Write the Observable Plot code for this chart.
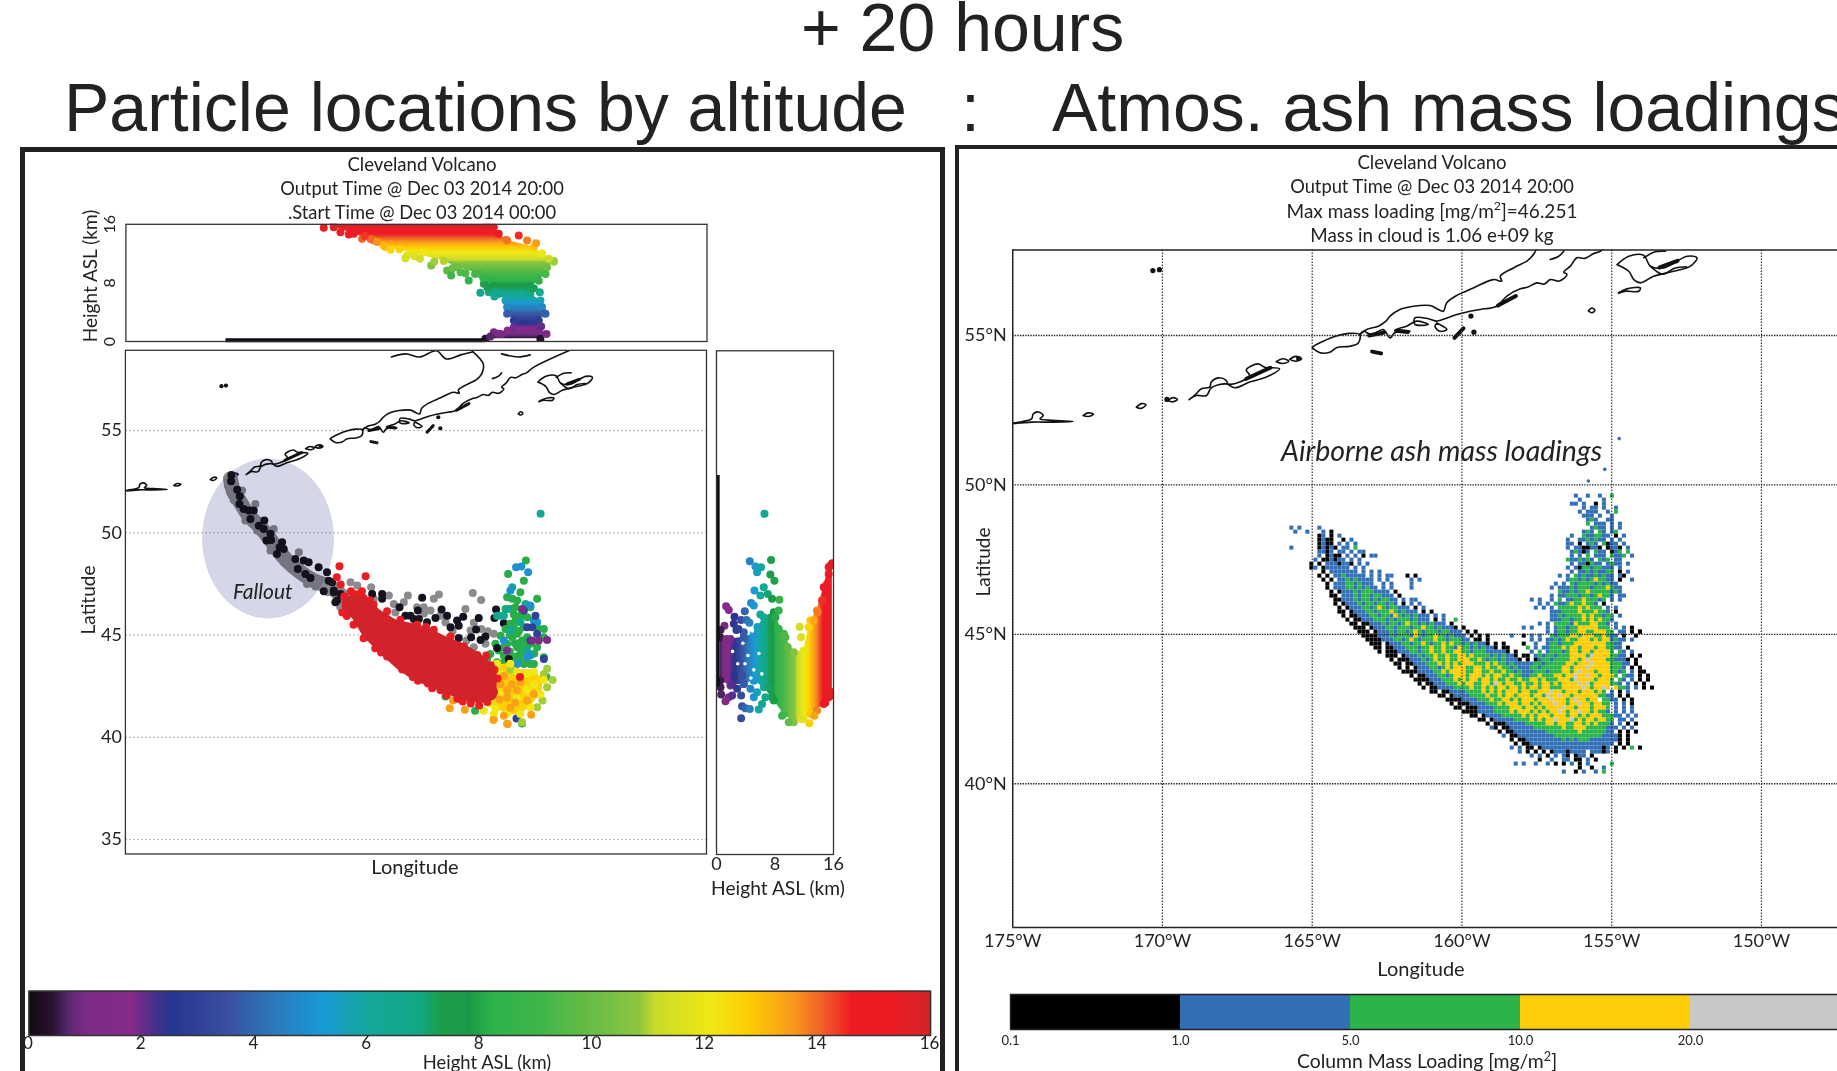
<!DOCTYPE html>
<html><head><meta charset="utf-8">
<script src="https://cdn.jsdelivr.net/npm/d3@7"></script>
<script src="https://cdn.jsdelivr.net/npm/@observablehq/plot@0.6"></script>
<style>
html,body{margin:0;padding:0;background:#fff;width:1837px;height:1071px;overflow:hidden;position:relative}
.t{position:absolute;white-space:nowrap;transform:translate(-50%,-50%);font-family:Lato,"Open Sans",sans-serif;color:#222;line-height:1}
.h{position:absolute;white-space:nowrap;font-family:"Liberation Sans",Arial,sans-serif;font-size:68px;color:#222;line-height:1}
.p{position:absolute}
sup{font-size:.65em;line-height:0}
</style></head><body>
<script>
// ---------- height colour bar ----------
const hStops=[0,.4,.7,1,1.8,2.2,2.5,3.5,4.2,5.2,6,6.9,7.3,7.8,8.2,9,10,10.8,11.1,12.1,12.8,13.6,14.1,14.6,15.3,16];
const hColors=["#110b14","#2a1230","#5a2a72","#7a2c84","#872a8c","#4a2f8c","#26358f","#3a4f9f","#2f73b5","#1a9ad6","#14a89c","#12a884","#1b9e4b","#1a9a48","#2cb34a","#3fb54a","#6abd45","#8cc63f","#c9db2a","#f0e814","#ffcb05","#f7941d","#f15a29","#ed1c24","#ed1c24","#d2232a"];
const hTicks=[0,2,4,6,8,10,12,14,16];

// ---------- mass loading colour bar ----------
const ashClasses=["0","1","2","3","4"];
const ashColors=["#000000","#326fb5","#2cb34a","#ffcc08","#c8c8c6"];
const ashLabels=["0.1","1.0","5.0","10.0","20.0"];

// ---------- coast, [lon,lat] ----------
const coastLines=[
[[-175.2,52.05],[-175,52.07],[-174.64,52.13],[-174.37,52.21],[-174.31,52.38],[-174.14,52.44],[-173.98,52.32],[-174.09,52.21],[-173.64,52.16],[-172.98,52.12],[-173.64,52.1],[-174.37,52.1],[-175.2,52.03]],
[[-172.65,52.32],[-172.48,52.41],[-172.3,52.37],[-172.48,52.29],[-172.65,52.32]],
[[-170.87,52.6],[-170.7,52.72],[-170.55,52.68],[-170.72,52.56],[-170.87,52.6]],
[[-169.82,52.82],[-169.65,52.92],[-169.5,52.86],[-169.65,52.78],[-169.82,52.82]],
[[-169.11,52.85],[-168.87,53.05],[-168.7,53.22],[-168.42,53.27],[-168.37,53.44],[-168.14,53.58],[-167.87,53.5],[-167.81,53.38],[-167.42,53.44],[-167.09,53.66],[-167.2,53.85],[-166.81,54.05],[-166.59,53.94],[-166.09,53.89],[-166.53,53.61],[-167.09,53.44],[-167.59,53.25],[-167.87,53.38],[-168.37,53.25],[-168.53,52.99],[-168.87,52.99],[-169.11,52.85]],
[[-166.2,54.12],[-165.98,54.22],[-165.78,54.14],[-165.98,54.06],[-166.2,54.12]],
[[-165.75,54.2],[-165.55,54.3],[-165.35,54.22],[-165.55,54.14],[-165.75,54.2]],
[[-165,54.59],[-164.74,54.42],[-164.41,54.44],[-164.19,54.59],[-163.74,54.64],[-163.46,54.75],[-163.41,55.03],[-163.74,55.07],[-164.19,54.98],[-164.63,54.81],[-164.91,54.67],[-165,54.59]],
[[-163.41,55.03],[-163.18,55.2],[-162.79,55.31],[-162.54,55.48],[-162.4,55.65],[-162.07,55.87],[-161.62,55.98],[-161.06,56],[-160.79,55.87],[-160.62,55.81],[-160.51,56.09],[-160.17,56.34],[-159.62,56.59],[-158.95,56.87],[-158.67,56.82],[-158.72,56.98],[-158.28,57.26],[-157.83,57.49],[-157.66,57.65],[-157.55,57.82],[-157.5,58.27],[-158,58.85]],
[[-163.41,55.03],[-163.29,55.14],[-163.02,55.03],[-162.63,55.2],[-162.4,54.92],[-162.24,55.09],[-161.73,55.14],[-162.18,55.2],[-161.85,55.31],[-161.51,55.48],[-161.12,55.37],[-161.57,55.37],[-161.57,55.59],[-161.12,55.56],[-160.84,55.48],[-160.62,55.54],[-160.17,55.7],[-159.73,55.81],[-159.39,55.87],[-158.84,55.98],[-158.5,56.32],[-158.05,56.56],[-157.8,56.62],[-157.5,56.76],[-157.25,56.72],[-157.05,56.87],[-156.75,56.82],[-156.49,57.04],[-156.6,57.12],[-156.38,57.32],[-156.16,57.6],[-155.9,57.58],[-155.6,57.74],[-155.38,57.82],[-155.04,58.09],[-153.2,58.95]],
[[-160.84,55.42],[-160.5,55.2],[-160.73,55.14],[-160.9,55.3],[-160.84,55.42]],
[[-154.82,57.37],[-154.43,57.65],[-153.93,57.68],[-153.71,57.32],[-153.26,57.26],[-152.48,57.65],[-152.15,57.6],[-152.37,57.32],[-152.93,57.15],[-153.6,56.98],[-154.04,56.76],[-154.26,56.87],[-154.43,57.15],[-154.82,57.37]],
[[-153.93,57.6],[-153.55,57.8],[-153.2,57.82]],
[[-153.71,57.32],[-153.3,57.05],[-152.9,57.25],[-152.5,57.3]],
[[-154.77,56.43],[-154.49,56.56],[-154.04,56.59],[-154.1,56.48],[-154.54,56.48],[-154.77,56.41]],
[[-157.05,57.54],[-156.77,57.65],[-156.6,57.82]],
[[-155.78,55.82],[-155.66,55.92],[-155.56,55.84],[-155.66,55.76],[-155.78,55.82]],
[[-162,58.6],[-161.3,58.75],[-160.6,58.6],[-159.8,58.9],[-159.3,58.5],[-158.6,58.7],[-158,58.85]],
[[-156.6,58.75],[-155.8,58.6],[-155.2,58.7]]
];
const coastBold=[
[[-160.25,54.92],[-159.95,55.24]],
[[-158.8,56],[-158.2,56.32]],
[[-163,54.46],[-162.7,54.4]],
[[-167.2,53.55],[-166.4,53.92]],
[[-163.1,55],[-162.6,55.1]],
[[-162.2,55.16],[-161.8,55.12]],
[[-153.4,57.28],[-152.8,57.5]]
];
const coastBlobs=[[-170.32,57.17],[-170.1,57.2],[-159.6,55.11],[-159.7,55.65],[-169.85,52.86],[-165.45,54.23]];
// ---------- particle map, left panel ----------
const fallBand=[[-169.88,52.64],[-169.71,51.98],[-169.39,51.49],[-168.98,50.84],[-168.49,50.35],[-168,49.78],[-167.6,49.21],[-167.11,48.64],[-166.45,48.07],[-165.8,47.66],[-164.98,47.34],[-164.3,46.8]];
const fallBlack=[[-169.83,52.83],[-169.85,52.52],[-169.55,52.11],[-169.42,51.79],[-169.44,51.41],[-169.23,51.17],[-168.98,51.09],[-168.74,51.09],[-168.9,50.68],[-168.22,50.6],[-168.49,50.35],[-168.25,50.19],[-167.92,49.95],[-168.12,49.62],[-167.89,49.65],[-167.35,49.54],[-167.47,49.29],[-167.27,49.21],[-167.6,48.97],[-166.7,48.72],[-166.29,48.64],[-166.58,48.23],[-166.05,48.56],[-166.21,47.99],[-165.96,47.79],[-165.56,48.32],[-165.15,48.07],[-165.07,47.66],[-164.9,47.58],[-165.31,47.14],[-164.82,47.18],[-164.66,46.69],[-164.82,47.09],[-164.49,47.01],[-164.74,46.6],[-162.94,47.01],[-162.45,47.01],[-162.45,46.77],[-161.6,46.36],[-160.49,46.82],[-161.31,45.95],[-161.06,45.95],[-160.7,46.2],[-160.9,45.79],[-160.65,45.79],[-159.54,46.25],[-159.84,45.84],[-159.27,45.95],[-159.1,45.38],[-158.78,45.71],[-158.48,45.9],[-158.7,45.46],[-157.72,45.84],[-156.87,46.25],[-156.95,45.84],[-156.49,45.58],[-157.85,45.27],[-160.25,45.63],[-157.39,44.93],[-157.63,44.76],[-158.09,44.89],[-158.7,44.86]];
const fallGrey=[[-170.01,52.31],[-169.31,52.07],[-169.72,51.61],[-169.15,50.6],[-168.66,51.41],[-168.57,50.11],[-167.76,50.19],[-167.92,49.13],[-167.27,48.56],[-166.94,48.4],[-166.53,49.05],[-166.13,47.5],[-165.72,47.37],[-165.11,47.09],[-164.5,46.36],[-164,47.58],[-164.41,46.36],[-163.67,47.42],[-162.99,47.34],[-162.12,46.93],[-161.19,46.93],[-161.88,46.52],[-161.39,46.6],[-159.67,46.98],[-159.92,46.77],[-158.01,47.06],[-157.6,46.72],[-158.37,46.28],[-160.41,46.36],[-160.08,46.2],[-159.6,45.95],[-159.35,45.63],[-157.96,45.6],[-157.28,45.19],[-158.12,45.22],[-158.32,44.73],[-157.96,44.4],[-157.39,44.57],[-156.98,45.06],[-160.74,46.36],[-162.86,46.77],[-164.2,46.7],[-161.8,46.1],[-160.4,46.05],[-159,45.2],[-157.6,45.3]];
const redBand=[[-164.4,46.75,46.3],[-163.9,46.95,45.8],[-163.35,46.93,44.89],[-162.53,46.2,44.08],[-161.72,45.71,43.34],[-160.9,45.55,42.77],[-160.08,45.3,42.45],[-159.27,44.89,42.09],[-158.45,44.57,41.8],[-157.63,44.08,41.63],[-156.98,43.51,41.8],[-156.82,43.1,41.96]];
const redDots=[[-164.54,48.37],[-164.67,47.83],[-163.26,47.88],[-164.48,47.47],[-163.98,47.14],[-163.44,47.14],[-164.18,45.93],[-163.85,45.5],[-163.36,44.85],[-162.79,44.36],[-162.21,43.95],[-161.47,43.32],[-161.64,43.62],[-160.7,42.76],[-160.21,42.63],[-159.59,42.3],[-158.77,41.89],[-158.11,41.65],[-157.3,41.73],[-156.97,42.22],[-156.8,42.88],[-157.13,43.53],[-157.79,44.02],[-158.44,44.44],[-159.1,44.93],[-159.92,45.26],[-160.74,45.5],[-161.56,45.75],[-162.21,46.16],[-162.87,46.49],[-163.36,46.81],[-155.7,42.95],[-164.3,46.9],[-164.4,46.1],[-163.7,47],[-163,45.6],[-162.5,44.15],[-160.95,42.95],[-160,42.4],[-159.3,42.05],[-158.5,41.75],[-157.7,41.55],[-157.35,44],[-156.95,43.3],[-163.05,46.7],[-160.3,45.4]];
const coreBand=[[-156.98,41.5,43.5],[-156.33,41.1,43.6],[-155.68,41.1,43.3],[-155.19,41.5,43.3],[-154.86,41.9,43.1],[-154.6,42.2,42.9]];
const orangeDots=[[-156.49,43],[-156.1,42.6],[-156.33,42.3],[-155.84,42.3],[-155.35,41.8],[-156.33,41.95],[-155.93,41.7],[-156.65,42.6],[-155.68,42.7],[-156.7,41.85],[-156.17,41.45],[-155.02,42.12],[-156.49,41.05],[-159.14,41.42],[-158.98,41.8],[-158.4,41.35],[-155.15,41.1],[-157,40.85],[-156.3,40.65]];
const yellowDots=[[-156.82,43.6],[-156.17,43.6],[-155.35,43.1],[-155.02,42.6],[-154.86,42.1],[-155.19,41.47],[-155.68,41.14],[-156.33,41.14],[-156.98,41.14],[-157.47,41.3],[-157.15,41.65],[-155.84,43.2],[-156.65,43.1],[-156.9,41.4],[-154.53,42.8],[-155.02,43.2],[-154.7,42.1],[-155.35,42.3],[-155.84,41.9],[-156.65,42.1]];
const limeDots=[[-154.37,43.35],[-154.1,42.8],[-154.53,43.1],[-154.37,42.45],[-154.6,41.8],[-154.86,41.47],[-156.98,40.9],[-156.33,40.66],[-155.6,40.74],[-156.17,43.3]];
const greenDots=[[-157.9,41.3],[-159.35,42],[-155.6,40.68],[-154.4,42.95],[-156.28,47.99],[-155.51,47.66],[-155.41,48.64],[-156.33,46.85],[-156.08,46.77],[-155.68,47.09],[-155.84,46.69],[-156.17,46.28],[-156.41,46.28],[-155.68,45.95],[-155.92,45.71],[-156.17,45.55],[-156.41,45.3],[-156.65,44.97],[-156.9,44.57],[-157.15,44.08],[-157.31,43.83],[-156.74,44.24],[-156.33,44.57],[-155.84,44.4],[-155.59,44.73],[-155.19,46.36],[-154.86,46.77],[-154.53,45.3],[-154.53,44.89],[-154.86,44.4],[-154.53,43.91],[-155.19,43.59],[-155.51,43.59],[-156,43.91],[-156.49,44],[-156.82,43.67],[-155.84,45.06],[-155.51,45.38],[-155.19,44.57],[-155.02,43.59],[-154.86,45.38],[-155.92,46.36],[-155.35,45.87],[-156.08,44.89],[-156.49,44.4],[-155.68,44.08],[-155.35,44.89],[-156,45.4],[-155.75,44.6],[-156.2,44.2],[-155.6,46.1],[-156,46],[-155.75,45.2],[-155.9,43.95],[-155,44.1],[-156.2,45],[-155.95,44.6],[-155.6,44.35],[-155.35,44.5],[-156.45,43.7],[-156.1,43.65],[-155.7,43.75]];
const tealDots=[[-154.69,50.93],[-156.08,47.34],[-156.49,45.95],[-156.65,45.95],[-155.43,46.52],[-156.33,46.28],[-155.68,45.63],[-155.35,44.24],[-156.82,45.95],[-156.17,45.22]];
const skyDots=[[-155.89,48.32],[-155.63,48.35],[-155.3,48.07],[-156.17,47.17],[-155.19,46.44],[-154.86,45.63],[-155.19,44],[-155.35,43.91],[-155.84,43.59],[-155.02,45.71],[-156.49,44.73]];
const navyDots=[[-155.87,40.92],[-154.94,45.95],[-155.1,45.38],[-154.86,45.06],[-155.19,44.73],[-154.53,43.83],[-155.35,45.38],[-155.51,46.2]];
const violetDots=[[-154.37,44.76],[-154.78,44.73],[-155.59,46.28],[-155.1,44.73],[-156.33,44.24]];
const inkDots=[[-156.25,43.83],[-156.82,44.37]];

// ---------- lon / height panel, top ----------
const topHeight=[15.95,15.6,14.7,13.8,12.9,12,11,10.15,9.2,8.3,7.4,6.5,5.6,4.7,3.8,2.85,1.95,1.05,.36];
const topWest=[-164.82,-164.82,-163.84,-162.86,-162.29,-160.9,-159.43,-158.78,-157.64,-157.31,-157.06,-156.74,-156.41,-156.33,-156.33,-156,-156,-156.74,-157.39];
const topEast=[-157.31,-156.98,-156.74,-156.33,-155.02,-154.62,-154.04,-154.37,-154.45,-154.78,-155.19,-155.19,-154.7,-154.62,-154.45,-154.78,-154.78,-154.7,-154.7];
const topDots=[[-165.31,15.52],[-164.49,14.93],[-164.08,14.6],[-163.43,14.02],[-163.02,14],[-155.76,14.47],[-156.36,13.88],[-155.35,13.79],[-154.91,13.43],[-162.37,13.1],[-162.04,12.51],[-161.23,11.74],[-161.31,11.38],[-160.87,11.65],[-160.41,12.2],[-160.05,10.37],[-159.27,9.69],[-159.07,9],[-158.61,9.47],[-158.37,9.33],[-158.21,8.33],[-157.47,7.87],[-157.64,6.64],[-157.23,6.73],[-156.95,6.14],[-154.04,10.88],[-154.29,11.29],[-155.02,7.28],[-154.73,6.73],[-155.22,7.19],[-154.53,3.87],[-154.66,2.05],[-154.4,1.04],[-156.98,1.27],[-156.6,1],[-156.3,1.5],[-157.15,.68],[-163.3,14.4],[-162.7,13.6],[-161.6,12.6],[-160.6,11.3],[-159.9,10.9],[-159,10],[-157.9,9.2],[-157.5,8.7],[-157.3,7.4],[-156.9,6.8]];
const topFloor=[-170.1,-157.4];

// ---------- height / lat panel, right ----------
const sideHeight=[.5,1.9,3.73,5.1,6.46,7.83,9.2,10.56,11.92,12.84,13.75,14.66,15.34,15.84];
const sideNorth=[44.89,44.81,44.89,45.06,45.87,46.12,45.06,44.16,44.24,45.71,46.2,47.34,48.32,48.51];
const sideSouth=[42.77,42.53,42.61,42.77,42.45,41.8,41.14,40.74,40.9,41.14,41.31,41.63,41.96,42.2];
const sideDots=[[1.32,46.41],[1.68,46.23],[1.09,45.46],[.55,45.25],[1.91,44.73],[1.36,44.81],[.55,42.45],[.64,42.09],[1.23,41.76],[1.68,41.96],[3.87,46.16],[2.46,45.9],[3.37,45.74],[2.37,45.55],[4.1,45.74],[2.73,45.25],[3.73,45.14],[2.46,43.02],[3.5,43.02],[2.14,42.58],[2.82,42.37],[3.73,42.61],[2.14,42.04],[3.37,42.04],[3.5,41.52],[3.96,41.42],[3.37,40.93],[4.55,48.61],[5.33,48.35],[6.1,48.32],[5.55,48.07],[5.19,47.18],[6.46,47.34],[6.01,46.93],[4.73,46.57],[5.1,46.44],[4.55,41.39],[5.78,41.36],[6.23,41.63],[5.1,41.96],[4.64,42.37],[5.55,42.2],[7.46,48.67],[7.37,47.96],[7.92,47.66],[8.6,46.73],[7.01,47.01],[7.6,46.77],[8.51,46.2],[8.06,45.87],[8.51,45.3],[9.42,44.89],[9.74,44.4],[7.15,42.45],[7.6,41.96],[8.97,41.06],[9.88,40.74],[6.69,41.96],[11.38,45.41],[11.56,44.89],[12.7,40.69],[11.56,40.9],[12.6,45.38],[13.29,45.71],[13.38,41.06],[15.57,48.4],[15.34,47.99],[15.11,47.5],[14.43,46.69],[13.84,46.12],[15.57,42.04],[14.9,41.7],[6.56,50.93],[4.5,45.6],[5.6,45.4],[3,45.3],[6,46]];
const sideGaps=[[3.6,44.6],[2.2,44.2],[4.3,44],[3.9,43.6],[5.1,43.3],[5.8,44.1],[4.7,42.9],[2.9,43.6],[6.2,43.1],[4.9,45.2]];
const sideFloor=[42.45,52.8];

// ---------- ash cells, right map: [row, column, classes] ----------
const ashLon0=-165.747, ashLat0=49.69, ashStep=0.1338;
const ashRows=[
[0,71,"1  1  1  2"],[1,72,"1     1"],[2,70,"11 1  0 1"],[3,73,"1 11 1  1"],[4,72,"1 111  1 2"],[5,73,"111 1  1"],[6,74,"121  11"],[7,74,"2 111 1 1"],
[8,0,"1 1    1"],[8,75,"1211 1 1"],[9,1,"1  1   1 0"],[9,73,"121 21 12"],
[10,7,"01 0 1"],[10,70,"1  2112211 0 1"],[11,7,"0100  0 1"],[11,69,"1  1121211 1 1"],
[12,7,"0100 1 1 1"],[12,69,"11 0 121 2011 1"],[13,0,"1"],[13,7,"01010 11 2"],[13,69,"1 1100110 0110 1"],
[14,7,"1101 11 1 11"],[14,70,"12101 211 012 2"],[15,7,"1 0100 1 1 0 11"],[15,70,"1 1 2 111 2112 1"],
[16,6,"1 001011 1 1"],[16,69,"2112121 212 11"],[17,5,"0 0 1110110 1 1"],[17,70,"1 110211 1211 1"],
[18,5,"01 0111111 1 1"],[18,69,"1 1022122111 1"],[19,8,"0 1111111 1 1 1"],[19,70,"1 112121122 0"],[19,84,"1"],
[20,7,"0 0 11211111 1 1 11"],[20,29,"0 0"],[20,67,"1 1 2121121211 1"],[20,83,"0"],
[21,8,"0 0 112121111 1 1"],[21,30,"1 1"],[21,69,"122121232211 0"],[21,85,"1"],
[22,9,"0 1112212111  1 1"],[22,30,"1"],[22,66,"1 1 212222121211"],
[23,9,"0 11122121211 1 1"],[23,30,"1"],[23,65,"1 1112122212223211"],
[24,10,"0 0111212221111 0"],[24,67,"2112122322222121"],
[25,10,"00 1112122122111 0"],[25,65,"1 11222122123221 11"],
[26,11,"0011121221212211 1 1"],[26,31,"1"],[26,60,"1 1  1 2 1122322212 1 1"],
[27,11,"0 01112122122121 0 1 1"],[27,62,"1 1 21123223221 0"],
[28,12,"0 0111221232122111 0 1"],[28,61,"1 1 1 22222323222 1 1"],
[29,12,"00 01112212223212111 0 0"],[29,65,"111222232223221 0"],
[30,13,"0 00111221221321212111 1"],[30,36,"1 1"],[30,65,"1121222232322122 1"],
[31,14,"0 0011122212122212111 0 1"],[31,41,"2"],[31,65,"1112212232323221"],
[32,15,"00 001112122123221212111 0"],[32,62,"1 1 22221322233221 1"],
[33,16,"000 0111221222122322121110 0"],[33,58,"1 1"],[33,64,"1 12212233333222 1 1 0"],
[34,17,"000 0111212212321222122111 0 0"],[34,64,"1 122122332233322 11 0 0"],[34,87,"0"],
[35,18,"00001112122213212232212111 0 0 0"],[35,55,"1  0 1 1"],[35,65,"21222332333223211 0  0"],
[36,19,"00001112212321222322122211 00 0"],[36,60,"1 1"],[36,64,"11212322333232331211 1"],
[37,20,"000 01112212232122323221212110 0 0"],[37,58,"0  1"],[37,64,"1221222333333332211"],
[38,21,"00 0011122212232232213221212110 00"],[38,59,"2 1"],[38,63,"11222323323332332211 0"],
[39,22,"0 0001112212232232233221222111110 0"],[39,60,"1 2"],[39,64,"12221233233233332 21 1"],
[40,24,"000 01112122322322332322221212110 0"],[40,59,"0 12"],[40,63,"122122233332433332211 1"],[40,85,"0 0"],
[41,25,"0 0001112123223223332232122121110 0 0"],[41,62,"1221222233234333322111"],[41,84,"0 0"],
[42,26,"00 0011122232323233322232322121111121"],[42,62,"21222223323334333322211 0"],[42,86,"0"],
[43,27,"0 0 0111221232333223323223221211122122"],[43,65,"2223323334333332221 0 0"],
[44,28,"00001111223233332233223223221211122212"],[44,66,"223323433323332212 1 00"],
[45,30,"0 00111221233323332323322322112232222"],[45,66,"3323343343323332 211 0 0"],
[46,31,"0000111222323233233232232232233232223"],[46,68,"3324333323332 21 1 0 0"],
[47,32,"0 001112223233223324323322322323323233"],[47,70,"3343423333221 1 0 0"],
[48,33,"0 0011112222322323233233232332332223333"],[48,72,"34323343 3221 1 0 0"],
[49,35,"00 00111122223232323332332233343323332333232 1 0 1"],
[50,37,"00 01111222232232332333233243343323333332211 0 0"],
[51,39,"00001111222322332323332333433323433233 2211 0 0"],
[52,40,"0 00011112223233323323233343323343323322 1 1 0"],
[53,41,"00 000111122223332332323333433233323332 1 1 1"],
[54,43,"0000111122223233323232334323343323221 1 1 1"],
[55,45,"00 01111222223232333233323323233322211 1 1"],
[56,47,"00 0111112222323233433342323323322 11 1"],
[57,49,"0 000111112222233233223323232221 1 0 0"],
[58,50,"10 00111111222222232233322222111 1 1"],
[59,52,"0 001111111122222222322222211 0 0 0"],
[60,53,"1 0011111111122222222222211110 0"],
[61,55,"0 00111111111212122211111110 0"],
[62,56,"0 00111111111111111111111 0 0"],
[63,55,"1 1 00 011111111111111101 0 0 2 0"],
[64,57,"1 0 0 0 011101111 11101 0"],
[65,60,"1 1 0 1 10 011 0"],
[66,62,"0  1  11 00 1 0"],
[67,56,"1 1  1  1 0 0 1 0 1"],[67,80,"2"],
[68,72,"0  0  1"],
[69,68,"1  0 1  1 2"]
];
const ashStray=[[-154.75,51.55],[-155.23,50.52],[-155.78,50.13]];

// ---------- axes ----------
const latTicks=[35,40,45,50,55];
const mapLatTicks=[40,45,50,55];
const lonTicks=[-175,-170,-165,-160,-155,-150];

// ---------- helpers ----------
const body=document.body;
const put=(el,l,t)=>{el.classList.add("p");el.style.left=l+"px";el.style.top=t+"px";body.append(el);return el};
const txt=(html,x,y,size,extra="")=>{const d=document.createElement("div");d.className="t";d.innerHTML=html;d.style.cssText=`left:${x}px;top:${y}px;font-size:${size}px;${extra}`;body.append(d)};
const head=(s,x,y)=>{const d=document.createElement("div");d.className="h";d.textContent=s;d.style.left=x+"px";d.style.top=y+"px";body.append(d)};
const box=(l,t,w,h,b)=>{const d=document.createElement("div");d.style.cssText=`position:absolute;left:${l}px;top:${t}px;width:${w}px;height:${h}px;box-sizing:border-box;${b}`;body.append(d)};
const hColor=d3.scaleLinear(hStops,hColors);
const colorOpt={type:"linear",domain:hStops,range:hColors};
const FONT="Lato";
const gradient=(id,axis)=>(index,scales)=>{
  const s=scales[axis];
  const g=d3.create("svg:defs").append("linearGradient").attr("id",id).attr("gradientUnits","userSpaceOnUse");
  if(axis==="y"){g.attr("x1",0).attr("x2",0).attr("y1",s(0)).attr("y2",s(16))}else{g.attr("y1",0).attr("y2",0).attr("x1",s(0)).attr("x2",s(16))}
  for(const h of hStops)g.append("stop").attr("offset",h/16).attr("stop-color",hColor(h));
  return g.node().parentNode;
};
const mapLonL=[-175,-146.54], latL=[34.27,58.9];
const R=4;

// frames and headings
box(20,147,925,940,"border:5px solid #222;border-bottom:none");
box(955,145,900,940,"border:4.5px solid #222;border-right:none;border-bottom:none");
head("+ 20 hours",801,-7);
head("Particle locations by altitude",64,73);
head(":",961,73);
head("Atmos. ash mass loadings",1052,73);

// TOP PANEL
const topRows=topHeight.map((h,i)=>({h,w:topWest[i],e:topEast[i]}));
put(Plot.plot({width:720,height:137,marginLeft:125.4,marginRight:13.5,marginTop:9.8,marginBottom:10,
  x:{domain:mapLonL,axis:null},y:{domain:[0,16],axis:null},color:colorOpt,
  style:{background:"none",fontFamily:FONT,color:"#222"},
  marks:[
    gradient("topGrad","y"),
    Plot.areaX(topRows,{y:"h",x1:"w",x2:"e",fill:"url(#topGrad)",curve:"linear"}),
    Plot.dot(topRows,{x:"w",y:"h",fill:"h",r:R,clip:true}),
    Plot.dot(topRows,{x:"e",y:"h",fill:"h",r:R,clip:true}),
    Plot.dot(topDots,{x:d=>d[0],y:d=>d[1],fill:d=>d[1],r:R,clip:true}),
    Plot.ruleY([0.17],{x1:topFloor[0],x2:topFloor[1],stroke:"#110b14",strokeWidth:3.8}),
    Plot.frame({stroke:"#333",strokeWidth:1.3}),
    Plot.axisY({ticks:[0,8,16],tickSize:0,tickPadding:0,tickRotate:-90,fontSize:16,label:null,textAnchor:"middle",anchor:"left",dx:-11})
  ]}),0,214);
txt("Height ASL (km)",89,276,19,"transform:translate(-50%,-50%) rotate(-90deg)");

// MAIN LEFT MAP
const ell=d3.range(0,360,6).map(a=>[-168.04+3.23*Math.cos(a*Math.PI/180),49.72+3.91*Math.sin(a*Math.PI/180)]);
const coastRows=coastLines.flatMap((l,i)=>l.map(p=>({lon:p[0],lat:p[1],i})));
const boldRows=coastBold.flatMap((l,i)=>l.map(p=>({lon:p[0],lat:p[1],i})));
const rr=(arr,c,r=R)=>Plot.dot(arr,{x:d=>d[0],y:d=>d[1],fill:c,r});
const redRows=redBand.map(d=>({lon:d[0],n:d[1],s:d[2]}));
const coreRows=coreBand.map(d=>({lon:d[0],s:d[1],n:d[2]}));
put(Plot.plot({width:720,height:544,marginLeft:125.4,marginRight:13.5,marginTop:10.3,marginBottom:30,
  x:{domain:mapLonL,axis:null},y:{domain:latL,axis:null},color:colorOpt,
  style:{background:"none",fontFamily:FONT,color:"#222"},
  marks:[
    Plot.ruleY(latTicks,{stroke:"#999",strokeDasharray:"1.5 2.5",strokeWidth:1}),
    Plot.line(coastRows,{x:"lon",y:"lat",z:"i",stroke:"#111",strokeWidth:1.6,clip:true,curve:"catmull-rom"}),
    Plot.line(boldRows,{x:"lon",y:"lat",z:"i",stroke:"#111",strokeWidth:3,clip:true,strokeLinecap:"round"}),
    Plot.dot(coastBlobs,{x:d=>d[0],y:d=>d[1],fill:"#111",r:2.1,clip:true}),
    Plot.line(fallBand,{x:d=>d[0],y:d=>d[1],stroke:"#8b8b8d",strokeWidth:15,strokeLinecap:"round",curve:"catmull-rom"}),
    rr(fallGrey,"#8b8b8d"),
    rr(fallBlack,"#15131f"),
    rr(greenDots,hColor(8.1)),
    rr(tealDots,hColor(6.4)),
    rr(skyDots,hColor(5)),
    rr(navyDots,hColor(3)),
    rr(violetDots,hColor(1.4)),
    rr(inkDots,"#15131f"),
    Plot.areaY(coreRows,{x:"lon",y1:"s",y2:"n",fill:hColor(12.7)}),
    rr(limeDots,hColor(10.9)),
    rr(yellowDots,hColor(12.1)),
    rr(orangeDots,hColor(13.4)),
    rr(redDots,"#ed1c24"),
    Plot.areaY(redRows,{x:"lon",y1:"s",y2:"n",fill:"#d2232a"}),
    Plot.line(ell,{x:d=>d[0],y:d=>d[1],fill:"#d5d7e8",stroke:"none",curve:"linear-closed",mixBlendMode:"multiply"}),
    Plot.text(["Fallout"],{x:()=>-168.3,y:()=>47.08,fontSize:21,fontStyle:"italic",fill:"#222"}),
    Plot.rect([0],{x1:mapLonL[0],x2:mapLonL[1],y1:latL[0],y2:latL[1],fill:"none",stroke:"#333",strokeWidth:1.3}),
    Plot.axisY({ticks:latTicks,tickSize:0,tickPadding:4,fontSize:18,label:null,anchor:"left"})
  ]}),0,340);
txt("Latitude",87,600,19,"transform:translate(-50%,-50%) rotate(-90deg)");
txt("Longitude",415,866,20);
// titles
txt("Cleveland Volcano",422,164,18.6);
txt("Output Time @ Dec 03 2014 20:00",422,188,18.3);
txt(".Start Time @ Dec 03 2014 00:00",422,211.5,18.3);

// SIDE PANEL
const sideRows=sideHeight.map((h,i)=>({h,n:sideNorth[i],s:sideSouth[i]}));
put(Plot.plot({width:140,height:544,marginLeft:10,marginRight:13,marginTop:10.3,marginBottom:30,
  x:{domain:[0,16],axis:null},y:{domain:latL,axis:null},color:colorOpt,
  style:{background:"none",fontFamily:FONT,color:"#222",overflow:"visible"},
  marks:[
    gradient("sideGrad","x"),
    Plot.areaY(sideRows,{x:"h",y1:"s",y2:"n",fill:"url(#sideGrad)"}),
    Plot.dot(sideRows,{x:"h",y:"n",fill:"h",r:R,clip:true}),
    Plot.dot(sideRows,{x:"h",y:"s",fill:"h",r:R,clip:true}),
    Plot.dot(sideDots,{x:d=>d[0],y:d=>d[1],fill:d=>d[0],r:R,clip:true}),
    Plot.dot(sideGaps,{x:d=>d[0],y:d=>d[1],fill:"#fff",r:1.8}),
    Plot.ruleX([0.2],{y1:sideFloor[0],y2:sideFloor[1],stroke:"#110b14",strokeWidth:3.4}),
    Plot.frame({stroke:"#333",strokeWidth:1.3}),
    Plot.axisX({ticks:[0,8,16],tickSize:0,tickPadding:3,fontSize:18,label:null,anchor:"bottom"})
  ]}),706,340);
txt("Height ASL (km)",778,888,19.2);

// LEFT COLOUR BAR
const steps=d3.range(0,16,0.05);
put(Plot.plot({width:940,height:80,marginLeft:28.5,marginRight:10,marginTop:5.7,marginBottom:30,
  x:{domain:[0,16],axis:null},y:{domain:[0,1],axis:null},color:colorOpt,
  style:{background:"none",fontFamily:FONT,color:"#222",overflow:"visible"},
  marks:[
    Plot.rect(steps,{x1:d=>d,x2:d=>d+0.07,y1:0,y2:1,fill:d=>d}),
    Plot.frame({stroke:"#333",strokeWidth:1.5}),
    Plot.axisX({ticks:hTicks,tickSize:0,tickPadding:1,fontSize:17,label:null,anchor:"bottom",dx:-1})
  ]}),0,985);
txt("Height ASL (km)",487,1062,18.4);

// RIGHT MAP
const ashCells=ashRows.flatMap(([r,c,s])=>[...s].flatMap((k,j)=>k===" "?[]:[{lon:ashLon0+(c+j)*ashStep,lat:ashLat0-r*ashStep,k}]));
const rLon=[-175,-147.46], rLat=[35.19,57.86];
put(Plot.plot({width:887,height:727,marginLeft:62.2,marginRight:0,marginTop:9.5,marginBottom:40,
  x:{domain:rLon,axis:null},y:{domain:rLat,axis:null},color:{type:"ordinal",domain:ashClasses,range:ashColors},
  style:{background:"none",fontFamily:FONT,color:"#222"},
  marks:[
    Plot.line(coastRows,{x:"lon",y:"lat",z:"i",stroke:"#111",strokeWidth:1.6,clip:true,curve:"catmull-rom"}),
    Plot.line(boldRows,{x:"lon",y:"lat",z:"i",stroke:"#111",strokeWidth:4,clip:true,strokeLinecap:"round"}),
    Plot.dot(coastBlobs,{x:d=>d[0],y:d=>d[1],fill:"#111",r:2.6,clip:true}),
    Plot.rect(ashCells,{x1:"lon",x2:d=>d.lon+ashStep,y1:d=>d.lat-ashStep,y2:"lat",fill:"k"}),
    Plot.dot(ashStray,{x:d=>d[0],y:d=>d[1],fill:ashColors[1],r:1.8}),
    Plot.ruleY(mapLatTicks,{stroke:"#222",strokeDasharray:"1.4 1.2",strokeWidth:1.4}),
    Plot.ruleX(lonTicks,{stroke:"#333",strokeDasharray:"1.4 1.6",strokeWidth:1.2}),
    Plot.text(["Airborne ash mass loadings"],{x:()=>-160.68,y:()=>51.11,fontSize:28.5,fontStyle:"italic",fill:"#222"}),
    Plot.ruleY([rLat[0],rLat[1]],{stroke:"#222",strokeWidth:1.4}),
    Plot.ruleX([rLon[0]],{stroke:"#222",strokeWidth:1.4}),
    Plot.axisY({ticks:mapLatTicks,tickFormat:d=>d+"°N",tickSize:0,tickPadding:6,fontSize:18,label:null,anchor:"left"}),
    Plot.axisX({ticks:lonTicks,tickFormat:d=>-d+"°W",tickSize:0,tickPadding:7,fontSize:18,label:null,anchor:"bottom"})
  ]}),950,240);
txt("Latitude",982,562,19,"transform:translate(-50%,-50%) rotate(-90deg)");
txt("Longitude",1421,968,20);
txt("Cleveland Volcano",1432,162,18.6);
txt("Output Time @ Dec 03 2014 20:00",1432,186,18.3);
txt("Max mass loading [mg/m<sup>2</sup>]=46.251",1432,210,19);
txt("Mass in cloud is 1.06 e+09 kg",1432,235,18.8);

// RIGHT COLOUR BAR
const ashIdx=ashClasses.map((k,i)=>({k,i}));
put(Plot.plot({width:887,height:62,marginLeft:60,marginRight:0,marginTop:4,marginBottom:23,
  x:{domain:[0,827/170],axis:null},y:{domain:[0,1],axis:null},color:{type:"ordinal",domain:ashClasses,range:ashColors},
  style:{background:"none",fontFamily:FONT,color:"#222"},
  marks:[
    Plot.rect(ashIdx,{x1:"i",x2:d=>d.i+1,y1:0,y2:1,fill:"k"}),
    Plot.ruleY([0,1],{stroke:"#222",strokeWidth:1.4}),
    Plot.ruleX([0],{stroke:"#222",strokeWidth:1.4}),
    Plot.axisX({ticks:[0,1,2,3,4],tickFormat:i=>ashLabels[i],tickSize:0,tickPadding:6,fontSize:13,label:null,anchor:"bottom",dx:0})
  ]}),950,990);
txt("Column Mass Loading [mg/m<sup>2</sup>]",1427,1060.5,19.4);
</script>
</body></html>
